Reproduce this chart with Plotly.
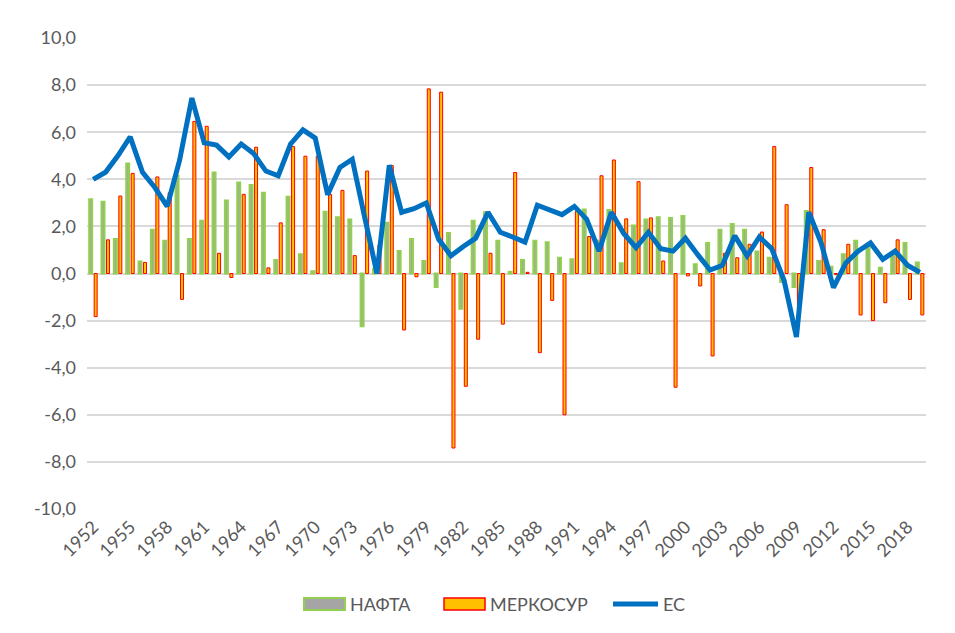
import plotly.graph_objects as go

years = [str(y) for y in range(1952, 2020)]

nafta = [3.15, 3.05, 1.47, 4.67, 0.51, 1.86, 1.39, 4.15, 1.47, 2.24,
         4.29, 3.10, 3.86, 3.76, 3.43, 0.57, 3.26, 0.82, 0.10, 2.62,
         2.39, 2.29, -2.24, 0.20, 2.15, 0.96, 1.47, 0.53, -0.57, 1.72,
         -1.50, 2.24, 2.60, 1.39, 0.07, 0.57, 1.39, 1.33, 0.67, 0.61,
         2.72, 1.40, 2.70, 0.43, 2.04, 2.29, 2.39, 2.36, 2.44, 0.39,
         1.29, 1.86, 2.10, 1.86, 0.93, 0.67, -0.36, -0.57, 2.65, 0.53,
         0.29, 0.82, 1.39, 1.14, 0.24, 0.79, 1.29, 0.47]

mercosur = [-1.83, 1.43, 3.29, 4.25, 0.47, 4.10, 3.43, -1.10, 6.46, 6.25,
            0.86, -0.17, 3.36, 5.36, 0.24, 2.15, 5.39, 4.98, 4.98, 3.36,
            3.53, 0.76, 4.35, 1.21, 4.58, -2.40, -0.14, 7.84, 7.70, -7.41,
            -4.79, -2.79, 0.86, -2.15, 4.29, 0.05, -3.36, -1.14, -6.00, 2.64,
            1.57, 4.15, 4.82, 2.32, 3.90, 2.36, 0.53, -4.83, -0.10, -0.53,
            -3.50, 0.86, 0.67, 1.24, 1.76, 5.39, 2.92, -1.50, 4.50, 1.86,
            -0.05, 1.24, -1.76, -2.00, -1.24, 1.43, -1.10, -1.76]

eu = [4.00, 4.30, 5.00, 5.80, 4.30, 3.65, 2.85, 4.80, 7.45, 5.55,
      5.45, 4.95, 5.50, 5.10, 4.35, 4.15, 5.50, 6.10, 5.75, 3.35,
      4.50, 4.85, 2.40, 0.00, 4.60, 2.60, 2.75, 3.00, 1.45, 0.75,
      1.15, 1.50, 2.60, 1.75, 1.55, 1.33, 2.90, 2.70, 2.50, 2.85,
      2.30, 0.95, 2.60, 1.70, 1.10, 1.75, 1.05, 0.95, 1.50, 0.80,
      0.15, 0.35, 1.60, 0.75, 1.55, 1.05, -0.30, -2.70, 2.60, 1.30,
      -0.60, 0.45, 0.95, 1.30, 0.60, 0.95, 0.35, 0.05]

series_names = ["НАФТА", "МЕРКОСУР", "ЕС"]
tick_years = [str(y) for y in range(1952, 2020, 3)]
y_ticks = list(range(-10, 11, 2))
y_tick_labels = ["-10,0", "-8,0", "-6,0", "-4,0", "-2,0", "0,0",
                 "2,0", "4,0", "6,0", "8,0", "10,0"]

FONT = "Lato, Carlito, Calibri, Arial, sans-serif"
TXT = "#595959"
GREEN, GREY = "#92D050", "#A5A5A5"
ORANGE, RED = "#FFC000", "#FF0000"
BLUE = "#0070C0"

fig = go.Figure()
fig.add_trace(go.Bar(
    x=years, y=nafta, name=series_names[0],
    marker=dict(color=GREY, line=dict(color=GREEN, width=2)),
))
fig.add_trace(go.Bar(
    x=years, y=mercosur, name=series_names[1],
    marker=dict(color=ORANGE, line=dict(color=RED, width=1)),
))
fig.add_trace(go.Scatter(
    x=years, y=eu, name=series_names[2], mode="lines",
    line=dict(color=BLUE, width=5),
))

# Plot area in page pixels: x 87..926, y 38..509 (page has 8px body margin)
def px(xp):
    return (xp - 87) / 839.0

def py(yp):
    return (509 - yp) / 471.0

LEG_Y = 604
shapes = [
    dict(type="rect", xref="paper", yref="paper",
         x0=px(304), x1=px(345), y0=py(LEG_Y - 6), y1=py(LEG_Y + 6),
         fillcolor=GREY, line=dict(color=GREEN, width=2)),
    dict(type="rect", xref="paper", yref="paper",
         x0=px(444), x1=px(485), y0=py(LEG_Y - 6), y1=py(LEG_Y + 6),
         fillcolor=ORANGE, line=dict(color=RED, width=1.5)),
    dict(type="line", xref="paper", yref="paper",
         x0=px(613), x1=px(658), y0=py(LEG_Y), y1=py(LEG_Y),
         line=dict(color=BLUE, width=5)),
]
annotations = [
    dict(xref="paper", yref="paper", x=px(xs), y=py(LEG_Y), text=t,
         showarrow=False, xanchor="left", yanchor="middle",
         font=dict(size=18, color=TXT, family=FONT))
    for xs, t in [(348, series_names[0]), (488, series_names[1]), (661, series_names[2])]
]

fig.update_layout(
    width=947, height=625,
    margin=dict(l=79, r=29, t=30, b=124),
    paper_bgcolor="white", plot_bgcolor="white",
    barmode="group", bargap=0.19, bargroupgap=0.4,
    font=dict(family=FONT, size=18, color=TXT),
    showlegend=False,
    shapes=shapes,
    annotations=annotations,
)
fig.update_xaxes(
    type="category", tickmode="array", tickvals=tick_years, ticktext=tick_years,
    tickangle=-45, tickfont=dict(size=18, color=TXT), showgrid=False,
    showline=False, ticks="", zeroline=False, ticklabelstandoff=3,
)
fig.update_yaxes(
    range=[-10, 10], tickmode="array", tickvals=y_ticks, ticktext=y_tick_labels,
    showgrid=True, gridcolor="#D9D9D9", gridwidth=1.5,
    zeroline=True, zerolinecolor="#D9D9D9", zerolinewidth=1.5,
    showline=False, ticks="", ticklabelstandoff=10,
    tickfont=dict(size=18, color=TXT),
)

fig.write_html("out.html")
